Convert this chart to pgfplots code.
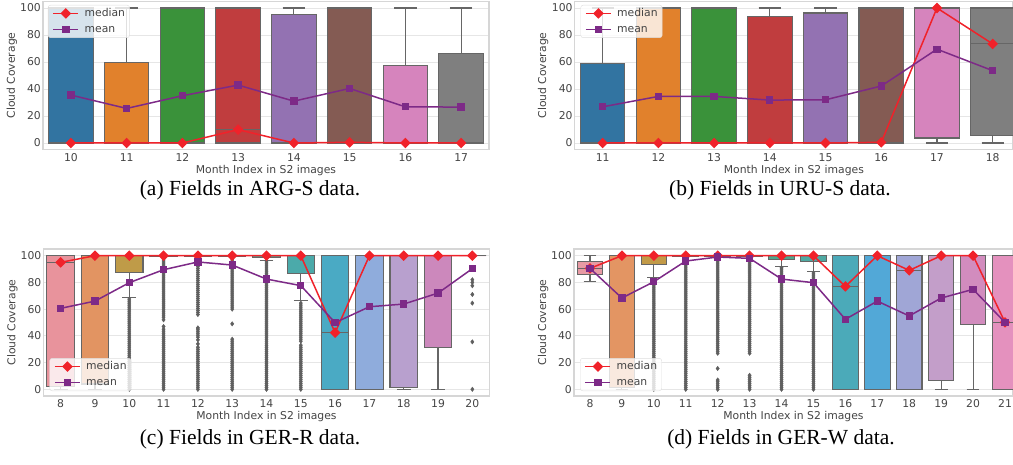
\documentclass[border=0pt]{standalone}
\usepackage{fontspec}
\usepackage{pgfplots}
\pgfplotsset{compat=1.18}
\usepgfplotslibrary{statistics}
\newfontfamily\dejavu{DejaVu Sans}
\newfontfamily\capfont{Liberation Serif}
\definecolor{edgegray}{HTML}{666666}
\definecolor{framegray}{HTML}{D6D6D6}
\definecolor{gridgray}{HTML}{E6E6E6}
\definecolor{labelgray}{HTML}{444444}
\definecolor{medred}{HTML}{F0222A}
\definecolor{meanpur}{HTML}{7D2A87}
\definecolor{outgray}{HTML}{5F5F5F}
\definecolor{legedge}{HTML}{DDDDDD}
% seaborn deep (desaturated)
\definecolor{A1}{HTML}{3274A1}\definecolor{A2}{HTML}{E1812C}\definecolor{A3}{HTML}{3A923A}\definecolor{A4}{HTML}{C03D3E}
\definecolor{A5}{HTML}{9372B2}\definecolor{A6}{HTML}{845B53}\definecolor{A7}{HTML}{D684BD}\definecolor{A8}{HTML}{7F7F7F}
% husl 13
\definecolor{C8}{HTML}{E8939C}\definecolor{C9}{HTML}{E29462}\definecolor{C10}{HTML}{BF9B48}\definecolor{C11}{HTML}{A3A04A}
\definecolor{C12}{HTML}{72A84F}\definecolor{C13}{HTML}{52A97C}\definecolor{C14}{HTML}{4FA995}\definecolor{C15}{HTML}{4BAAAA}
\definecolor{C16}{HTML}{4AAAC4}\definecolor{C17}{HTML}{8FACDC}\definecolor{C18}{HTML}{B8A0CE}\definecolor{C19}{HTML}{CC88BC}
\definecolor{C20}{HTML}{DF8CB0}
% husl 14
\definecolor{D8}{HTML}{E89AA4}\definecolor{D9}{HTML}{E39563}\definecolor{D10}{HTML}{C29A47}\definecolor{D11}{HTML}{A5A04A}
\definecolor{D12}{HTML}{78A84E}\definecolor{D13}{HTML}{52A97C}\definecolor{D14}{HTML}{4EA78E}\definecolor{D15}{HTML}{4FA9A2}
\definecolor{D16}{HTML}{4BAAB9}\definecolor{D17}{HTML}{52A8D7}\definecolor{D18}{HTML}{A0A6D6}\definecolor{D19}{HTML}{C39EC9}
\definecolor{D20}{HTML}{D28CBE}\definecolor{D21}{HTML}{E491BE}

\newcommand{\bx}[7]{\addplot[boxplot/draw direction=y, boxplot prepared={draw position=#1, lower whisker=#2, lower quartile=#3, median=#4, upper quartile=#5, upper whisker=#6}, draw=edgegray, fill=#7, line width=1.1pt, forget plot] coordinates {};}

\pgfplotsset{
  cc/.style={
    scale only axis,
    font=\dejavu\fontsize{10.8}{13}\selectfont,
    axis line style={draw=framegray, line width=1.2pt},
    major tick length=0pt,
    tick style={draw=none},
    ymajorgrids, grid style={draw=gridgray, line width=0.9pt},
    ymin=-5, ymax=105, ytick={0,20,...,100},
    ticklabel style={text=labelgray},
    /pgf/number format/assume math mode=true,
    xticklabel style={inner sep=0pt, anchor=north, yshift=-3.5pt},
    yticklabel style={inner sep=0pt, anchor=east, xshift=-2pt},
    xlabel={Month Index in S2 images},
    ylabel={Cloud Coverage},
    label style={text=labelgray},
    xlabel style={at={(axis description cs:0.5,0)}, anchor=center, yshift=-21pt},
    boxplot/draw direction=y,
    boxplot/box extend=0.8, boxplot/whisker extend=0.4,
    legend style={draw=legedge, fill=white, fill opacity=0.8, draw opacity=1, text opacity=1,
      rounded corners=2.5pt, inner xsep=4.5pt, inner ysep=3pt, row sep=5.5pt,
      nodes={inner sep=0pt, text height=8pt, text depth=2.5pt, text=labelgray},
      font=\dejavu\fontsize{10.8}{13}\selectfont,
      /tikz/every odd column/.append style={column sep=5.5pt}},
    legend cell align=left,
    legend image code/.code={\draw[mark repeat=2, mark phase=2, fill opacity=1, ##1] plot coordinates {(0pt,0pt) (12.5pt,0pt) (25pt,0pt)};},
  },
  medl/.style={color=medred, line width=1.5pt, mark=square*, mark size=3pt, mark options={rotate=45, solid}},
  meanl/.style={color=meanpur, line width=1.5pt, mark=square*, mark size=2.9pt, mark options={solid}},
  outl/.style={only marks, mark=diamond*, mark size=2.2pt, color=outgray, forget plot},
}

\begin{document}
\begin{tikzpicture}[x=1pt,y=1pt]
\useasboundingbox (0,0) rectangle (1013,464);

% ---------------- (a) ----------------
\begin{axis}[cc, at={(43pt,314.25pt)}, anchor=south west, width=446pt, height=148.5pt,
  xmin=9.5, xmax=17.5, xtick={10,...,17},
  ylabel style={at={(axis description cs:-0.0695,0.5)}, anchor=center},
  legend style={at={(axis description cs:0.011,0.975)}, anchor=north west}]
\bx{10}{0}{0}{0}{100}{100}{A1}
\bx{11}{0}{0}{0}{59.8}{100}{A2}
\bx{12}{0}{0}{0}{100}{100}{A3}
\bx{13}{0}{0}{10}{100}{100}{A4}
\bx{14}{0}{0}{0}{95.3}{100}{A5}
\bx{15}{0}{0}{0}{100}{100}{A6}
\bx{16}{0}{0}{0}{57.2}{100}{A7}
\bx{17}{0}{0}{0}{66.4}{100}{A8}
\addplot[medl] coordinates {(10,0)(11,0)(12,0)(13,9.9)(14,0)(15,0.5)(16,0)(17,0)};
\addlegendentry{median}
\addplot[meanl] coordinates {(10,35.5)(11,25.6)(12,35)(13,42.9)(14,31)(15,40.4)(16,26.8)(17,26.6)};
\addlegendentry{mean}
\end{axis}

% ---------------- (b) ----------------
\begin{axis}[cc, at={(574.8pt,314.25pt)}, anchor=south west, width=438.2pt, height=148.5pt,
  xmin=10.5, xmax=18.365, xtick={11,...,18},
  ylabel style={at={(axis description cs:-0.0725,0.5)}, anchor=center},
  legend style={at={(axis description cs:0.013,0.975)}, anchor=north west}]
\bx{11}{0}{0}{0}{58.6}{100}{A1}
\bx{12}{0}{0}{0}{100}{100}{A2}
\bx{13}{0}{0}{0}{100}{100}{A3}
\bx{14}{0}{0}{0}{93.8}{100}{A4}
\bx{15}{0}{0}{0}{96.3}{100}{A5}
\bx{16}{0}{0}{0}{100}{100}{A6}
\bx{17}{0}{3.7}{100}{100}{100}{A7}
\bx{18}{0}{5.7}{73.4}{100}{100}{A8}
\addplot[medl] coordinates {(11,0)(12,0)(13,0)(14,0)(15,0)(16,0.5)(17,100)(18,73.4)};
\addlegendentry{median}
\addplot[meanl] coordinates {(11,26.8)(12,34.5)(13,34.5)(14,31.8)(15,32)(16,42.2)(17,69.5)(18,53.6)};
\addlegendentry{mean}
\end{axis}

% ---------------- (c) ----------------
\begin{axis}[cc, at={(43.5pt,68pt)}, anchor=south west, width=446pt, height=147pt,
  xmin=7.5, xmax=20.5, xtick={8,...,20},
  ylabel style={at={(axis description cs:-0.0695,0.5)}, anchor=center},
  legend style={at={(axis description cs:0.0135,0.034)}, anchor=south west}]
\bx{8}{0}{2}{95}{100}{100}{C8}
\bx{9}{0}{4}{100}{100}{100}{C9}
\bx{10}{69}{87.5}{100}{100}{100}{C10}
\bx{11}{99.6}{99.6}{100}{100}{100}{C11}
\bx{12}{99.6}{99.6}{100}{100}{100}{C12}
\bx{13}{99.6}{99.6}{100}{100}{100}{C13}
\bx{14}{96.5}{98.8}{100}{100}{100}{C14}
\bx{15}{66.6}{86.5}{100}{100}{100}{C15}
\bx{16}{0}{0}{42.4}{100}{100}{C16}
\bx{17}{0}{0}{100}{100}{100}{C17}
\bx{18}{0}{1.5}{100}{100}{100}{C18}
\bx{19}{0}{31}{100}{100}{100}{C19}
\bx{20}{100}{100}{100}{100}{100}{C20}
\addplot[outl] table[x expr=10,y index=0,header=false,row sep=\\]{0\\1.5\\3\\4.5\\6\\7.5\\9\\10.5\\12\\13.5\\15\\16.5\\18\\19.5\\21\\22.5\\24\\25.5\\27\\28.5\\30\\31.5\\33\\34.5\\36\\37.5\\39\\40.5\\42\\43.5\\45\\46.5\\48\\49.5\\51\\52.5\\54\\55.5\\57\\58.5\\60\\61.5\\63\\64.5\\66\\67.5\\};
\addplot[outl] table[x expr=11,y index=0,header=false,row sep=\\]{0\\1.5\\3\\4.5\\6\\7.5\\9\\10.5\\12\\13.5\\15\\16.5\\18\\19.5\\21\\22.5\\24\\25.5\\27\\28.5\\30\\31.5\\33\\34.5\\36\\37.5\\39\\40.5\\42\\43.5\\45\\47\\52\\54\\55.5\\57\\58.5\\60\\61.5\\63\\64.5\\66\\67.5\\69\\70.5\\72\\73.5\\75\\76.5\\78\\79.5\\81\\82.5\\84\\85.5\\87\\88.5\\90\\91.5\\93\\94.5\\96\\97.5\\99\\};
\addplot[outl] table[x expr=12,y index=0,header=false,row sep=\\]{0\\1.5\\3\\4.5\\6\\7.5\\9\\10.5\\12\\13.5\\15\\16.5\\18\\19.5\\21\\22.5\\24\\25.5\\27\\28.5\\30\\31.5\\34\\37\\39\\40.5\\42\\43.5\\45\\46\\56\\57.5\\59\\60.5\\62\\63.5\\65\\66.5\\68\\69.5\\71\\72.5\\74\\75.5\\77\\78.5\\80\\81.5\\83\\84.5\\86\\87.5\\89\\90.5\\92\\93.5\\95\\96.5\\98\\99\\};
\addplot[outl] table[x expr=13,y index=0,header=false,row sep=\\]{0\\1.5\\3\\4.5\\6\\7.5\\9\\10.5\\12\\13.5\\15\\16.5\\18\\19.5\\21\\22.5\\24\\25.5\\27\\28.5\\30\\31.5\\33\\34.5\\36\\37.5\\49\\60\\61.5\\63\\64.5\\66\\67.5\\69\\70.5\\72\\73.5\\75\\76.5\\78\\79.5\\81\\82.5\\84\\85.5\\87\\88.5\\90\\91.5\\93\\94.5\\96\\97.5\\99\\};
\addplot[outl] table[x expr=14,y index=0,header=false,row sep=\\]{0\\1.5\\3\\4.5\\6\\7.5\\9\\10.5\\12\\13.5\\15\\16.5\\18\\19.5\\21\\22.5\\24\\25.5\\27\\28.5\\30\\31.5\\33\\34.5\\36\\37.5\\39\\40.5\\42\\43.5\\45\\46.5\\48\\49.5\\51\\52.5\\54\\55.5\\57\\58.5\\60\\61.5\\63\\64.5\\66\\67.5\\69\\70.5\\72\\73.5\\75\\76.5\\78\\79.5\\81\\82.5\\84\\85.5\\87\\88.5\\90\\91.5\\93\\94.5\\96\\};
\addplot[outl] table[x expr=15,y index=0,header=false,row sep=\\]{0\\1.5\\3\\4.5\\6\\7.5\\9\\10.5\\12\\13.5\\15\\16.5\\18\\19.5\\21\\22.5\\24\\25.5\\27\\28.5\\30\\31.5\\33\\36\\37.5\\39\\40.5\\42\\43.5\\45\\46.5\\48\\49.5\\51\\52.5\\54\\55.5\\57\\58.5\\60\\61.5\\63\\64.5\\};
\addplot[outl] coordinates {(20,0)(20,35.5)(20,64.5)(20,71)(20,77.5)(20,80)(20,82)};
\addplot[medl] coordinates {(8,95)(9,100)(10,100)(11,100)(12,100)(13,100)(14,100)(15,100)(16,42.4)(17,100)(18,100)(19,100)(20,100)};
\addlegendentry{median}
\addplot[meanl] coordinates {(8,60.6)(9,66)(10,79.8)(11,89.5)(12,95.3)(13,93)(14,82.5)(15,77.6)(16,49.9)(17,61.8)(18,63.8)(19,72)(20,90.3)};
\addlegendentry{mean}
\end{axis}

% ---------------- (d) ----------------
\begin{axis}[cc, at={(574pt,68pt)}, anchor=south west, width=439pt, height=147pt,
  xmin=7.5, xmax=21.25, xtick={8,...,21},
  ylabel style={at={(axis description cs:-0.0705,0.5)}, anchor=center},
  legend style={at={(axis description cs:0.0137,0.034)}, anchor=south west}]
\bx{8}{81}{86}{90.5}{95.5}{100}{D8}
\bx{9}{0}{1.5}{100}{100}{100}{D9}
\bx{10}{83.5}{93.5}{100}{100}{100}{D10}
\bx{11}{99.6}{99.6}{100}{100}{100}{D11}
\bx{12}{99.6}{99.6}{100}{100}{100}{D12}
\bx{13}{99.6}{99.6}{100}{100}{100}{D13}
\bx{14}{92}{97}{100}{100}{100}{D14}
\bx{15}{88.5}{95.5}{100}{100}{100}{D15}
\bx{16}{0}{0}{77}{100}{100}{D16}
\bx{17}{0}{0}{100}{100}{100}{D17}
\bx{18}{0}{0}{89}{100}{100}{D18}
\bx{19}{0}{6.7}{100}{100}{100}{D19}
\bx{20}{0}{48.6}{100}{100}{100}{D20}
\bx{21}{0}{0}{50.1}{100}{100}{D21}
\addplot[outl] table[x expr=10,y index=0,header=false,row sep=\\]{0\\1.5\\3\\4.5\\6\\7.5\\9\\10.5\\12\\13.5\\15\\16.5\\18\\19.5\\21\\22.5\\24\\25.5\\27\\28.5\\30\\31.5\\33\\34.5\\36\\37.5\\39\\40.5\\42\\43.5\\45\\46.5\\48\\49.5\\51\\52.5\\54\\55.5\\57\\58.5\\60\\61.5\\63\\64.5\\66\\67.5\\69\\70.5\\72\\73.5\\75\\76.5\\78\\79.5\\};
\addplot[outl] table[x expr=11,y index=0,header=false,row sep=\\]{0\\1.5\\3\\4.5\\6\\7.5\\9\\10.5\\12\\13.5\\15\\16.5\\18\\19.5\\21\\22.5\\24\\25.5\\27\\28.5\\30\\31.5\\33\\34.5\\36\\37.5\\39\\40.5\\42\\43.5\\45\\46.5\\48\\49.5\\51\\52.5\\54\\55.5\\57\\58.5\\60\\61.5\\63\\64.5\\66\\67.5\\69\\70.5\\72\\73.5\\75\\76.5\\78\\79.5\\81\\82.5\\84\\85.5\\87\\88.5\\90\\91.5\\93\\94.5\\96\\97.5\\99\\};
\addplot[outl] table[x expr=12,y index=0,header=false,row sep=\\]{0\\1.5\\3\\4.5\\6\\7\\15.6\\27\\28.5\\30\\31.5\\33\\34.5\\36\\37.5\\39\\40.5\\42\\43.5\\45\\46.5\\48\\49.5\\51\\52.5\\54\\55.5\\57\\58.5\\60\\61.5\\63\\64.5\\66\\67.5\\69\\70.5\\72\\73.5\\75\\76.5\\78\\79.5\\81\\82.5\\84\\85.5\\87\\88.5\\90\\91.5\\93\\94.5\\96\\97.5\\99\\};
\addplot[outl] table[x expr=13,y index=0,header=false,row sep=\\]{0\\1.5\\3\\4.5\\6\\7.5\\9\\10.5\\27\\28.5\\30\\31.5\\33\\34.5\\36\\37.5\\39\\40.5\\42\\43.5\\45\\46.5\\48\\49.5\\51\\52.5\\54\\55.5\\57\\58.5\\60\\61.5\\63\\64.5\\66\\67.5\\69\\70.5\\72\\73.5\\75\\76.5\\78\\79.5\\81\\82.5\\84\\85.5\\87\\88.5\\90\\91.5\\93\\94.5\\96\\97.5\\99\\};
\addplot[outl] table[x expr=14,y index=0,header=false,row sep=\\]{0\\1.5\\3\\4.5\\6\\7.5\\9\\10.5\\12\\13.5\\15\\16.5\\18\\19.5\\21\\22.5\\24\\25.5\\27\\28.5\\30\\31.5\\33\\34.5\\36\\37.5\\39\\40.5\\42\\43.5\\45\\46.5\\48\\49.5\\51\\52.5\\54\\55.5\\57\\58.5\\60\\61.5\\63\\64.5\\66\\67.5\\69\\70.5\\72\\73.5\\75\\76.5\\78\\79.5\\81\\82.5\\84\\85.5\\87\\88.5\\90\\91\\};
\addplot[outl] table[x expr=15,y index=0,header=false,row sep=\\]{0\\1.5\\3\\4.5\\6\\7.5\\9\\10.5\\12\\13.5\\15\\16.5\\18\\19.5\\21\\22.5\\24\\25.5\\27\\28.5\\30\\31.5\\33\\34.5\\36\\37.5\\39\\40.5\\42\\43.5\\45\\46.5\\48\\49.5\\51\\52.5\\54\\55.5\\57\\58.5\\60\\61.5\\63\\64.5\\66\\67.5\\69\\70.5\\72\\73.5\\75\\76.5\\78\\79.5\\81\\82.5\\84\\85.5\\87\\};
\addplot[medl] coordinates {(8,90.5)(9,100)(10,100)(11,100)(12,100)(13,100)(14,100)(15,100)(16,77)(17,100)(18,89)(19,100)(20,100)(21,50.1)};
\addlegendentry{median}
\addplot[meanl] coordinates {(8,90.5)(9,68.3)(10,80.5)(11,96)(12,99)(13,98)(14,82.5)(15,79.8)(16,52.4)(17,66)(18,54.9)(19,68.3)(20,74.8)(21,50.1)};
\addlegendentry{mean}
\end{axis}

% captions
\node[font=\capfont\fontsize{21.5}{24}\selectfont, inner sep=0pt] at (250,274) {(a) Fields in ARG-S data.};
\node[font=\capfont\fontsize{21.5}{24}\selectfont, inner sep=0pt] at (780,274) {(b) Fields in URU-S data.};
\node[font=\capfont\fontsize{21.5}{24}\selectfont, inner sep=0pt] at (250,25) {(c) Fields in GER-R data.};
\node[font=\capfont\fontsize{21.5}{24}\selectfont, inner sep=0pt] at (781,25) {(d) Fields in GER-W data.};
\end{tikzpicture}
\end{document}
